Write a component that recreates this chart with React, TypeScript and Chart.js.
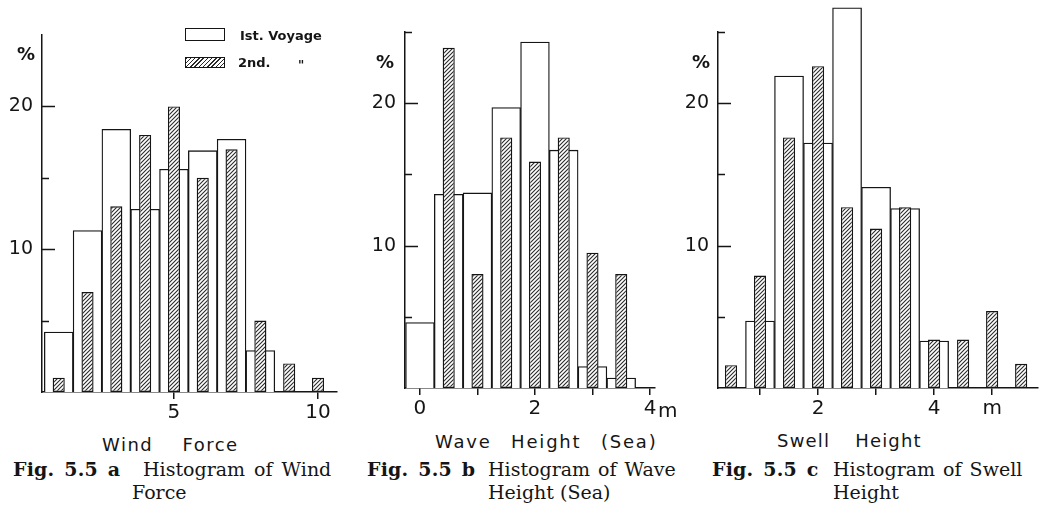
import React, { useEffect, useRef } from "react";
import { Chart, registerables } from "chart.js";

Chart.register(...registerables);

// ---------- DATA ----------
// Fig. 5.5a  Wind force (Beaufort)
const windForce = [1, 2, 3, 4, 5, 6, 7, 8, 9, 10];
const windVoyage1 = [4.2, 11.3, 18.4, 12.8, 15.6, 16.9, 17.7, 2.9, 0, 0];
const windVoyage2 = [1.0, 7.0, 13.0, 18.0, 20.0, 15.0, 17.0, 5.0, 2.0, 1.0];
const windTicks = [5, 10];
const windTickLabels = ["5", "10"];

// Fig. 5.5b  Wave height (sea), m
const waveHeight = [0, 0.5, 1.0, 1.5, 2.0, 2.5, 3.0, 3.5];
const waveVoyage1 = [4.6, 13.6, 13.7, 19.7, 24.3, 16.7, 1.5, 0.7];
const waveVoyage2 = [null, 23.9, 8.0, 17.6, 15.9, 17.6, 9.5, 8.0];
const waveTicks = [0, 1, 2, 3, 4];
const waveTickLabels = ["0", "", "2", "", "4"];

// Fig. 5.5c  Swell height, m
const swellHeight = [0.5, 1.0, 1.5, 2.0, 2.5, 3.0, 3.5, 4.0, 4.5, 5.0, 5.5];
const swellVoyage1 = [0, 4.7, 21.9, 17.2, 26.7, 14.1, 12.6, 3.3, 0, 0, 0];
const swellVoyage2 = [1.6, 7.9, 17.6, 22.6, 12.7, 11.2, 12.7, 3.4, 3.4, 5.4, 1.7];
const swellTicks = [1, 2, 3, 4, 5];
const swellTickLabels = ["", "2", "", "4", "m"];

// y axis (percent)
const yTicksA = [5, 10, 15, 20];
const yTickLabelsA = ["", "10", "", "20"];
const yTicksBC = [5, 10, 15, 20, 25];
const yTickLabelsBC = ["", "10", "", "20", ""];

const legendLabels = ["Ist. Voyage", "2nd."];

// ---------- HELPERS ----------
const INK = "#151515";

function makeHatch(): CanvasPattern | string {
  const s = 4;
  const c = document.createElement("canvas");
  c.width = s;
  c.height = s;
  const g = c.getContext("2d");
  if (!g) return "#888";
  g.fillStyle = "#ffffff";
  g.fillRect(0, 0, s, s);
  g.strokeStyle = "#2a2a2a";
  g.lineWidth = 1.1;
  g.beginPath();
  g.moveTo(0, s);
  g.lineTo(s, 0);
  g.moveTo(-1, 1);
  g.lineTo(1, -1);
  g.moveTo(s - 1, s + 1);
  g.lineTo(s + 1, s - 1);
  g.stroke();
  return g.createPattern(c, "repeat") || "#888";
}

const innerTicks = {
  id: "innerTicks",
  afterDatasetsDraw(chart: any) {
    const y = chart.scales.y;
    const ctx = chart.ctx;
    const left = chart.chartArea.left;
    ctx.save();
    ctx.strokeStyle = INK;
    ctx.lineWidth = 1.5;
    y.ticks.forEach((t: any) => {
      const py = Math.round(y.getPixelForValue(t.value)) + 0.5;
      const len = t.label ? 13 : 7;
      ctx.beginPath();
      ctx.moveTo(left, py);
      ctx.lineTo(left + len, py);
      ctx.stroke();
    });
    ctx.restore();
  },
};

type PanelSpec = {
  left: number;
  width: number;
  height: number;
  yW: number;
  xH: number;
  padRight: number;
  padTop: number;
  xMin: number;
  xMax: number;
  xs: number[];
  v1: (number | null)[];
  v2: (number | null)[];
  xTicks: number[];
  xTickLabels: string[];
  yTicks: number[];
  yTickLabels: string[];
};

function Panel({ spec }: { spec: PanelSpec }) {
  const ref = useRef<HTMLCanvasElement>(null);
  useEffect(() => {
    if (!ref.current) return;
    const hatch = makeHatch();
    const chart = new Chart(ref.current, {
      type: "bar",
      data: {
        datasets: [
          {
            label: legendLabels[1],
            data: spec.xs.map((x, i) => ({ x, y: spec.v2[i] })) as any,
            backgroundColor: hatch as any,
            borderColor: INK,
            borderWidth: 1.4,
            borderSkipped: false,
            barPercentage: 0.42,
            categoryPercentage: 1,
            grouped: false,
            order: 0,
            clip: false as any,
          },
          {
            label: legendLabels[0],
            data: spec.xs.map((x, i) => ({ x, y: spec.v1[i] })) as any,
            backgroundColor: "#ffffff",
            borderColor: INK,
            borderWidth: 1.3,
            borderSkipped: "start",
            barPercentage: 1,
            categoryPercentage: 1,
            grouped: false,
            order: 1,
            clip: false as any,
          },
        ],
      },
      options: {
        animation: false,
        responsive: false,
        devicePixelRatio: 1,
        layout: {
          padding: { left: 0, right: spec.padRight, top: spec.padTop, bottom: 0 },
        },
        plugins: {
          legend: { display: false },
          tooltip: { enabled: false },
        },
        scales: {
          x: {
            type: "linear",
            min: spec.xMin,
            max: spec.xMax,
            offset: false,
            grid: {
              display: true,
              offset: false,
              drawOnChartArea: false,
              drawTicks: true,
              tickLength: 7,
              color: INK,
              lineWidth: 1.5,
            },
            border: { display: true, color: INK, width: 1.5 },
            ticks: {
              autoSkip: false,
              maxRotation: 0,
              padding: 2,
              color: INK,
              font: { family: "DejaVu Sans", size: 20 },
              callback: (_v: any, i: number) => spec.xTickLabels[i],
            },
            afterBuildTicks: (s: any) => {
              s.ticks = spec.xTicks.map((v) => ({ value: v }));
            },
            afterFit: (s: any) => {
              s.height = spec.xH;
            },
          },
          y: {
            type: "linear",
            min: 0,
            max: 25,
            grid: { display: false, drawTicks: false },
            border: { display: true, color: INK, width: 1.5 },
            ticks: {
              padding: 9,
              color: INK,
              font: { family: "DejaVu Sans", size: 19 },
              callback: (_v: any, i: number) => spec.yTickLabels[i],
            },
            afterBuildTicks: (s: any) => {
              s.ticks = spec.yTicks.map((v) => ({ value: v }));
            },
            afterFit: (s: any) => {
              s.width = spec.yW;
            },
          },
        },
      } as any,
      plugins: [innerTicks],
    });
    return () => chart.destroy();
  }, []);
  return (
    <canvas
      ref={ref}
      width={spec.width}
      height={spec.height}
      style={{
        position: "absolute",
        left: spec.left,
        top: 0,
        width: spec.width,
        height: spec.height,
      }}
    />
  );
}

const panelA: PanelSpec = {
  left: 0, width: 345, height: 425, yW: 42, xH: 33, padRight: 8, padTop: 35,
  xMin: 0.42, xMax: 10.66,
  xs: windForce, v1: windVoyage1, v2: windVoyage2,
  xTicks: windTicks, xTickLabels: windTickLabels,
  yTicks: yTicksA, yTickLabels: yTickLabelsA,
};
const panelB: PanelSpec = {
  left: 345, width: 345, height: 425, yW: 60, xH: 37, padRight: 35, padTop: 32,
  xMin: -0.26, xMax: 4.087,
  xs: waveHeight, v1: waveVoyage1, v2: waveVoyage2,
  xTicks: waveTicks, xTickLabels: waveTickLabels,
  yTicks: yTicksBC, yTickLabels: yTickLabelsBC,
};
const panelC: PanelSpec = {
  left: 670, width: 370, height: 425, yW: 48, xH: 37, padRight: 2, padTop: 32,
  xMin: 0.276, xMax: 5.79,
  xs: swellHeight, v1: swellVoyage1, v2: swellVoyage2,
  xTicks: swellTicks, xTickLabels: swellTickLabels,
  yTicks: yTicksBC, yTickLabels: yTickLabelsBC,
};

function T({
  left, top, size, family = "DejaVu Sans", weight = 400, ls = 0, ws = 0, children,
}: any) {
  return (
    <div
      style={{
        position: "absolute",
        left,
        top,
        fontFamily: family,
        fontSize: size,
        fontWeight: weight,
        lineHeight: 1,
        letterSpacing: ls,
        wordSpacing: ws,
        whiteSpace: "nowrap",
        color: INK,
      }}
    >
      {children}
    </div>
  );
}

const SERIF = "'DejaVu Serif', serif";

export default function App() {
  return (
    <div
      style={{
        position: "absolute",
        left: 0,
        top: 0,
        width: 1040,
        height: 514,
        background: "#ffffff",
        overflow: "hidden",
      }}
    >
      <Panel spec={panelA} />
      <Panel spec={panelB} />
      <Panel spec={panelC} />

      {/* percent signs */}
      <T left={17} top={45} size={18} weight={700}>%</T>
      <T left={376} top={53} size={18} weight={700}>%</T>
      <T left={692} top={53} size={18} weight={700}>%</T>

      {/* unit after 4 in panel b */}
      <T left={658} top={400} size={20}>m</T>

      {/* legend */}
      <div style={{ position: "absolute", left: 185, top: 28, width: 40, height: 13, border: `1.5px solid ${INK}`, boxSizing: "border-box", background: "#fff" }} />
      <div
        style={{
          position: "absolute", left: 185, top: 57, width: 40, height: 11,
          border: `1.5px solid ${INK}`, boxSizing: "border-box",
          background: "repeating-linear-gradient(135deg, #2a2a2a 0 1px, #ffffff 1px 3px)",
        }}
      />
      <T left={240} top={28.5} size={13} weight={700}>{legendLabels[0]}</T>
      <T left={238} top={56} size={13} weight={700}>{legendLabels[1]}</T>
      <T left={298} top={59} size={12} weight={700}>"</T>

      {/* axis titles */}
      <T left={102} top={436} size={18} ls={1.5} ws={22}>Wind Force</T>
      <T left={435} top={433} size={18} ls={1.8} ws={12}>Wave Height (Sea)</T>
      <T left={777} top={432} size={18} ls={1.2} ws={18}>Swell Height</T>

      {/* captions */}
      <T left={13} top={460} size={19} family={SERIF} weight={700} ls={0.2} ws={3}>Fig. 5.5 a</T>
      <T left={143} top={460} size={19} family={SERIF} ws={3}>Histogram of Wind</T>
      <T left={132} top={483} size={19} family={SERIF}>Force</T>

      <T left={367} top={460} size={19} family={SERIF} weight={700} ls={0.2} ws={3}>Fig. 5.5 b</T>
      <T left={488} top={460} size={19} family={SERIF} ws={2}>Histogram of Wave</T>
      <T left={488} top={483} size={19} family={SERIF}>Height (Sea)</T>

      <T left={712} top={460} size={19} family={SERIF} weight={700} ls={0.2} ws={3}>Fig. 5.5 c</T>
      <T left={833} top={460} size={19} family={SERIF} ws={2}>Histogram of Swell</T>
      <T left={833} top={483} size={19} family={SERIF}>Height</T>
    </div>
  );
}
